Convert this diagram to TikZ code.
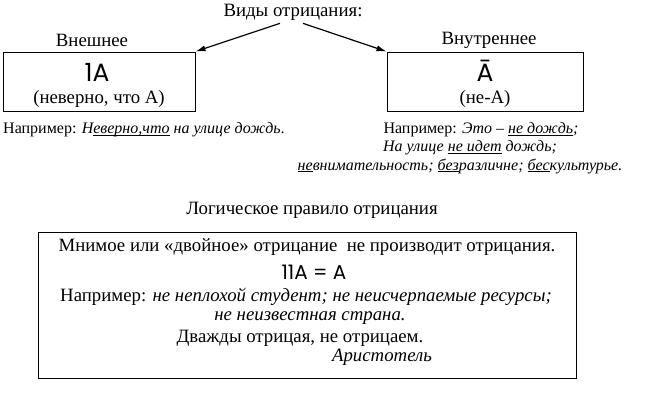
\documentclass[tikz,border=0pt]{standalone}
\usepackage{fontspec}
\setmainfont{Liberation Serif}
\newfontfamily\signfont{Poppins}
\usetikzlibrary{arrows.meta,positioning,calc}
% underline just below the baseline
\newcommand{\undl}[1]{\setbox0\hbox{#1}\rlap{\rule[-1.8pt]{\wd0}{0.8pt}}\box0\relax}
\tikzset{
    % Base style for plain text lines
    plain text/.style={
        font=\fontsize{18.8}{22}\selectfont,
        inner sep=0pt,
    },
    % Smaller text for the examples
    example text/.style={
        font=\fontsize{16}{19}\selectfont,
        inner sep=0pt,
    },
    % Logic signs in a geometric sans
    sign text/.style={
        font=\signfont\fontsize{25}{28}\selectfont,
        inner sep=0pt,
    },
    % Boxes for the two kinds of negation
    kind box/.style={
        rectangle,
        draw,
        line width=1pt,
        minimum height=59pt,
        inner sep=0pt,
    },
    % Box for the rule
    rule box/.style={
        rectangle,
        draw,
        line width=1pt,
        minimum width=538pt,
        minimum height=146pt,
        inner sep=0pt,
    },
    % Arrow from the title to the boxes
    arrow/.style={
        -{Latex[length=10pt, width=6pt]},
        line width=1.2pt,
    },
}

\begin{document}
\begin{tikzpicture}[x=1pt, y=1pt]
    \useasboundingbox (0,0) rectangle (668,-392);

    \node (title) [plain text] at (293,-12) {Виды отрицания:};

    \node (outerlabel) [plain text] at (92,-40) {Внешнее};
    \node (innerlabel) [plain text] at (489,-40) {Внутреннее};

    \node (outer) [kind box, minimum width=192pt] at (99,-81.5) {};
    \node (inner) [kind box, minimum width=196pt] at (485,-81.5) {};

    \node (outersign) [sign text] at (97,-72) {1A};
    \node (outernote) [plain text] at (99,-98.5) {(неверно, что А)};
    \node (innersign) [sign text] at (485,-71) {Ā};
    \node (innernote) [plain text] at (485,-98.5) {(не-А)};

    \coordinate (leftfrom) at ($(title.south)+(-13,-3)$);
    \coordinate (rightfrom) at ($(title.south)+(10,-3)$);
    \draw [arrow] (leftfrom) -- (outer.north east);
    \draw [arrow] (rightfrom) -- (inner.north west);

    % examples under the boxes
    \node (outerex) [example text, anchor=west] at (3,-130)
        {Например: \textit{Н\undl{еверно,что} на улице дождь}.};
    \node (innerexa) [example text] at (481,-130)
        {Например: \textit{Это – \undl{не дождь};}};
    \node (innerexb) [example text] at (470,-148)
        {\textit{На улице \undl{не идет} дождь;}};
    \node (innerexc) [example text] at (460,-166)
        {\textit{\undl{не}внимательность; \undl{без}различне; \undl{бес}культурье.}};

    % the rule
    \node (rulehead) [plain text] at (312,-210) {Логическое правило отрицания};
    \node (rule) [rule box] at (307,-305) {};
    \node (rulea) [plain text] at (307,-247)
        {Мнимое или «двойное» отрицание \ не производит отрицания.};
    \node (ruleb) [sign text, font=\signfont\fontsize{20}{24}\selectfont] at (314,-272) {11A = A};
    \node (rulec) [plain text] at (306,-297)
        {Например: \textit{не неплохой студент; не неисчерпаемые ресурсы;}};
    \node (ruled) [plain text] at (310,-318) {\textit{не неизвестная страна.}};
    \node (rulee) [plain text] at (300,-338) {Дважды отрицая, не отрицаем.};
    \node (rulef) [plain text] at (382,-357) {\textit{Аристотель}};
\end{tikzpicture}
\end{document}
